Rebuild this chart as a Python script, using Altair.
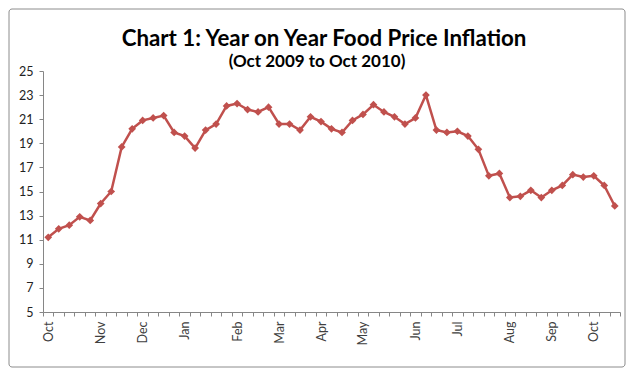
import altair as alt
import pandas as pd

weeks = [
    "2009-10-03", "2009-10-10", "2009-10-17", "2009-10-24", "2009-10-31",
    "2009-11-07", "2009-11-14", "2009-11-21", "2009-11-28",
    "2009-12-05", "2009-12-12", "2009-12-19", "2009-12-26",
    "2010-01-02", "2010-01-09", "2010-01-16", "2010-01-23", "2010-01-30",
    "2010-02-06", "2010-02-13", "2010-02-20", "2010-02-27",
    "2010-03-06", "2010-03-13", "2010-03-20", "2010-03-27",
    "2010-04-03", "2010-04-10", "2010-04-17", "2010-04-24",
    "2010-05-01", "2010-05-08", "2010-05-15", "2010-05-22", "2010-05-29",
    "2010-06-05", "2010-06-12", "2010-06-19", "2010-06-26",
    "2010-07-03", "2010-07-10", "2010-07-17", "2010-07-24", "2010-07-31",
    "2010-08-07", "2010-08-14", "2010-08-21", "2010-08-28",
    "2010-09-04", "2010-09-11", "2010-09-18", "2010-09-25",
    "2010-10-02", "2010-10-09", "2010-10-16",
]
inflation = [
    11.2, 11.9, 12.2, 12.9, 12.6,
    14.0, 15.0, 18.7, 20.2,
    20.9, 21.1, 21.3, 19.9,
    19.6, 18.6, 20.1, 20.6, 22.1,
    22.3, 21.8, 21.6, 22.0,
    20.6, 20.6, 20.1, 21.2,
    20.8, 20.2, 19.9, 20.9,
    21.4, 22.2, 21.6, 21.2, 20.6,
    21.1, 23.0, 20.1, 19.9,
    20.0, 19.6, 18.5, 16.3, 16.5,
    14.5, 14.6, 15.1, 14.5,
    15.1, 15.5, 16.4, 16.2,
    16.3, 15.5, 13.8,
]
y_ticks = [5, 7, 9, 11, 13, 15, 17, 19, 21, 23, 25]
title_text = "Chart 1: Year on Year Food Price Inflation"
subtitle_text = "(Oct 2009 to Oct 2010)"

df = pd.DataFrame({"week": weeks, "value": inflation})

FONT = "Lato"
RED = "#C0504D"

x_enc = alt.X(
    "week:O",
    sort=weeks,
    scale=alt.Scale(type="band", paddingInner=0, paddingOuter=0),
    axis=alt.Axis(
        title=None,
        labelAngle=270,
        labelExpr="isString(datum.value) && utcdate(toDate(datum.value)) <= 7 ? utcFormat(toDate(datum.value), '%b') : ''",
        tickBand="extent",
        tickSize=4,
        tickColor="#868686",
        domainColor="#868686",
        labelColor="#404040",
        labelFontSize=12.5,
        labelFont=FONT,
        labelPadding=5,
        grid=False,
    ),
)
y_enc = alt.Y(
    "value:Q",
    scale=alt.Scale(domain=[5, 25], nice=False, zero=False),
    axis=alt.Axis(
        title=None,
        values=y_ticks,
        tickSize=4,
        tickColor="#868686",
        domainColor="#868686",
        labelColor="#222222",
        labelFontSize=12.5,
        labelFont=FONT,
        labelPadding=6,
        grid=False,
    ),
)

one = pd.DataFrame({"k": [0]})

border = alt.Chart(one).mark_rect(
    fill=None, stroke="#8c8c8c", strokeWidth=1, cornerRadius=3
).encode(
    x=alt.value(-34), x2=alt.value(582), y=alt.value(-62), y2=alt.value(296)
)

title = alt.Chart(pd.DataFrame({"t": [title_text]})).mark_text(
    font=FONT, fontSize=22.3, fontWeight="bold", color="#000000",
    align="center", baseline="alphabetic",
).encode(x=alt.value(281), y=alt.value(-25), text="t:N")

subtitle = alt.Chart(pd.DataFrame({"t": [subtitle_text]})).mark_text(
    font=FONT, fontSize=17, fontWeight="bold", color="#000000",
    align="center", baseline="alphabetic",
).encode(x=alt.value(274), y=alt.value(-4), text="t:N")

line = alt.Chart(df).mark_line(
    color=RED, strokeWidth=2.5,
    point=alt.OverlayMarkDef(shape="diamond", size=60, filled=True, color=RED, opacity=1),
).encode(x=x_enc, y=y_enc)

chart = alt.layer(border, line, title, subtitle).properties(
    width=577,
    height=241,
    padding={"left": 35, "top": 63, "right": 6, "bottom": 56},
    autosize=alt.AutoSizeParams(type="none"),
).configure_view(stroke=None)

chart.save("out.html", embed_options={"renderer": "svg", "actions": False})
